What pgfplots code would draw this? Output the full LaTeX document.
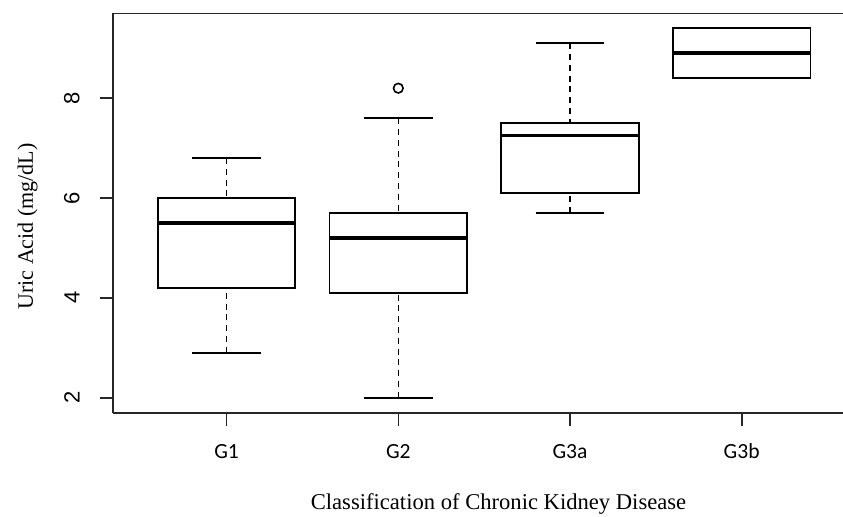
\documentclass[border=0pt]{standalone}
\usepackage{pgfplots}
\pgfplotsset{compat=1.18}
\usepgfplotslibrary{statistics}
\usepackage{fontspec}
\setmainfont{Liberation Serif}
\newfontfamily\arialfont{Liberation Sans}
\newfontfamily\calibrifont{Carlito}

\pgfplotsset{
  rbox/.style={
    black, line width=0.85pt, solid,
    boxplot/draw direction=y,
    boxplot/box extend=0.8,
    boxplot/whisker extend=0.4,
    boxplot/every median/.style={line width=1.8pt},
    boxplot/draw/lower whisker/.code={
      \draw[dash pattern=on 3pt off 2.4pt, line width=0.75pt]
        (boxplot box cs:\pgfplotsboxplotvalue{lower whisker},0.5) --
        (boxplot box cs:\pgfplotsboxplotvalue{lower quartile},0.5);
      \draw (boxplot whisker cs:\pgfplotsboxplotvalue{lower whisker},0) --
        (boxplot whisker cs:\pgfplotsboxplotvalue{lower whisker},1);
    },
    boxplot/draw/upper whisker/.code={
      \draw[dash pattern=on 3pt off 2.4pt, line width=0.75pt]
        (boxplot box cs:\pgfplotsboxplotvalue{upper whisker},0.5) --
        (boxplot box cs:\pgfplotsboxplotvalue{upper quartile},0.5);
      \draw (boxplot whisker cs:\pgfplotsboxplotvalue{upper whisker},0) --
        (boxplot whisker cs:\pgfplotsboxplotvalue{upper whisker},1);
    },
    mark=o, mark size=2.4pt, mark options={solid, line width=0.8pt},
  },
}

\begin{document}
\begin{tikzpicture}
\path[use as bounding box] (0,0) rectangle (421.5pt,258pt);
\begin{axis}[
    at={(56.65pt,51.65pt)}, anchor=south west,
    scale only axis,
    width=364.85pt, height=199.7pt,
    xmin=0.34, xmax=4.59,
    ymin=1.7, ymax=9.7,
    axis x line=box, axis y line=left,
    axis line style={-, line width=0.8pt, black!85},
    xtick={1,2,3,4},
    xticklabels={G1,G2,G3a,G3b},
    ytick={2,4,6,8},
    yticklabels={2,4,6,8},
    xtick pos=bottom, ytick pos=left,
    tick align=outside,
    major tick length=6.65pt,
    tick style={line width=0.8pt, black!85},
    xticklabel style={font=\calibrifont\fontsize{10.8}{12}\selectfont, anchor=base, yshift=-16pt},
    yticklabel style={font=\arialfont\fontsize{11}{13}\selectfont, rotate=90, anchor=south, inner xsep=0pt, inner ysep=10pt},
    xlabel={Classification of Chronic Kidney Disease},
    ylabel={Uric Acid (mg/dL)},
    xlabel style={font=\fontsize{11.3}{13}\selectfont, at={([yshift=-48.15pt]rel axis cs:0.5279,0)}, anchor=base},
    ylabel style={font=\fontsize{11}{13}\selectfont, at={([xshift=-40.15pt]rel axis cs:0,0.4662)}, anchor=base, rotate=0},
]
\addplot[rbox, boxplot prepared={draw position=1,
    lower whisker=2.9, lower quartile=4.2, median=5.5,
    upper quartile=6.0, upper whisker=6.8}] coordinates {};
\addplot[rbox, boxplot prepared={draw position=2,
    lower whisker=2.0, lower quartile=4.1, median=5.2,
    upper quartile=5.7, upper whisker=7.6}]
    table[row sep=\\, y index=0] {y\\ 8.2\\};
\addplot[rbox, boxplot prepared={draw position=3,
    lower whisker=5.7, lower quartile=6.1, median=7.25,
    upper quartile=7.5, upper whisker=9.1}] coordinates {};
\addplot[rbox, boxplot prepared={draw position=4,
    lower whisker=8.4, lower quartile=8.4, median=8.9,
    upper quartile=9.4, upper whisker=9.4}] coordinates {};
\end{axis}
\end{tikzpicture}
\end{document}
